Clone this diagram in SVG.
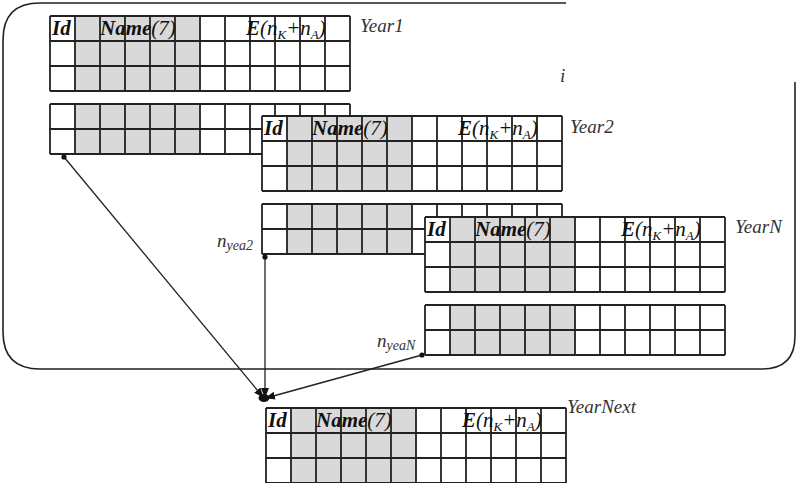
<svg xmlns="http://www.w3.org/2000/svg" xmlns:xlink="http://www.w3.org/1999/xlink" width="797" height="483" viewBox="0 0 797 483">
<style>
  .frame{fill:none;stroke:#222;stroke-width:1.6}
  .cellbg{fill:#fff}
  .gray{fill:#d9d9d9}
  .grid{fill:none;stroke:#222;stroke-width:1.8}
  .hdr{font-family:"Liberation Serif","Times New Roman",serif;font-style:italic;font-size:21px;fill:#111}
  .b{font-weight:bold}
  .lbl{font-family:"Liberation Serif","Times New Roman",serif;font-style:italic;font-size:19px;fill:#333}
  .sub{font-size:13px}
  .lsub{font-size:14px}
  .conn{fill:none;stroke:#222;stroke-width:1.3}
</style>
<defs>
  <g id="grid3">
    <rect class="cellbg" x="0" y="0" width="300" height="75"/>
    <rect class="gray" x="25" y="0" width="125" height="75"/>
    <path class="grid" d="M0 0H300M0 25H300M0 50H300M0 75H300M0 0V75M25 0V75M50 0V75M75 0V75M100 0V75M125 0V75M150 0V75M175 0V75M200 0V75M225 0V75M250 0V75M275 0V75M300 0V75"/>
  </g>
  <g id="grid2">
    <rect class="cellbg" x="0" y="0" width="300" height="50"/>
    <rect class="gray" x="25" y="0" width="125" height="50"/>
    <path class="grid" d="M0 0H300M0 25H300M0 50H300M0 0V50M25 0V50M50 0V50M75 0V50M100 0V50M125 0V50M150 0V50M175 0V50M200 0V50M225 0V50M250 0V50M275 0V50M300 0V50"/>
  </g>
  <marker id="dot" viewBox="0 0 6 6" refX="3" refY="3" markerWidth="6" markerHeight="6" markerUnits="userSpaceOnUse">
    <circle cx="3" cy="3" r="2.6" fill="#111"/>
  </marker>
  <marker id="arr" viewBox="0 0 10 8" refX="9" refY="4" markerWidth="10" markerHeight="8" markerUnits="userSpaceOnUse" orient="auto">
    <path d="M0 0L10 4L0 8Z" fill="#111"/>
  </marker>
</defs>

<path class="frame" d="M566 3H40Q3 3 3 40V332Q3 369 40 369H762Q795 369 795 336V82"/>
<text class="lbl" x="560" y="82">i</text>

<g id="year1">
  <use xlink:href="#grid3" x="50" y="16"/>
  <text class="hdr" x="52" y="35"><tspan class="b">Id</tspan></text>
  <text class="hdr" x="100" y="35"><tspan class="b">Name</tspan>(7)</text>
  <text class="hdr" x="246" y="35"><tspan class="b">E</tspan>(n<tspan class="sub" dy="4">K</tspan><tspan dy="-4">+n</tspan><tspan class="sub" dy="4">A</tspan><tspan dy="-4">)</tspan></text>
  <use xlink:href="#grid2" x="50" y="104"/>
  <text class="lbl" x="360" y="32">Year1</text>
</g>

<g id="year2">
  <use xlink:href="#grid3" x="262" y="116"/>
  <text class="hdr" x="264" y="135"><tspan class="b">Id</tspan></text>
  <text class="hdr" x="312" y="135"><tspan class="b">Name</tspan>(7)</text>
  <text class="hdr" x="458" y="135"><tspan class="b">E</tspan>(n<tspan class="sub" dy="4">K</tspan><tspan dy="-4">+n</tspan><tspan class="sub" dy="4">A</tspan><tspan dy="-4">)</tspan></text>
  <use xlink:href="#grid2" x="262" y="204"/>
  <text class="lbl" x="570" y="133">Year2</text>
  <text class="lbl" x="217" y="247">n<tspan class="lsub" dy="3">yea2</tspan></text>
</g>

<g id="yearN">
  <use xlink:href="#grid3" x="425" y="217"/>
  <text class="hdr" x="427" y="236"><tspan class="b">Id</tspan></text>
  <text class="hdr" x="475" y="236"><tspan class="b">Name</tspan>(7)</text>
  <text class="hdr" x="621" y="236"><tspan class="b">E</tspan>(n<tspan class="sub" dy="4">K</tspan><tspan dy="-4">+n</tspan><tspan class="sub" dy="4">A</tspan><tspan dy="-4">)</tspan></text>
  <use xlink:href="#grid2" x="425" y="305"/>
  <text class="lbl" x="735" y="233">YearN</text>
  <text class="lbl" x="377" y="347">n<tspan class="lsub" dy="3">yeaN</tspan></text>
</g>

<g id="yearNext">
  <use xlink:href="#grid3" x="266" y="408"/>
  <text class="hdr" x="268" y="427"><tspan class="b">Id</tspan></text>
  <text class="hdr" x="316" y="427"><tspan class="b">Name</tspan>(7)</text>
  <text class="hdr" x="462" y="427"><tspan class="b">E</tspan>(n<tspan class="sub" dy="4">K</tspan><tspan dy="-4">+n</tspan><tspan class="sub" dy="4">A</tspan><tspan dy="-4">)</tspan></text>
  <text class="lbl" x="567" y="413">YearNext</text>
</g>

<g id="connectors">
  <path class="conn" d="M64 157L263 397" marker-start="url(#dot)" marker-end="url(#arr)"/>
  <path class="conn" d="M265 257V397" marker-start="url(#dot)" marker-end="url(#arr)"/>
  <path class="conn" d="M422 355L266 398" marker-start="url(#dot)" marker-end="url(#arr)"/>
  <ellipse cx="264" cy="398" rx="5.5" ry="4" fill="#111"/>
</g>
</svg>
